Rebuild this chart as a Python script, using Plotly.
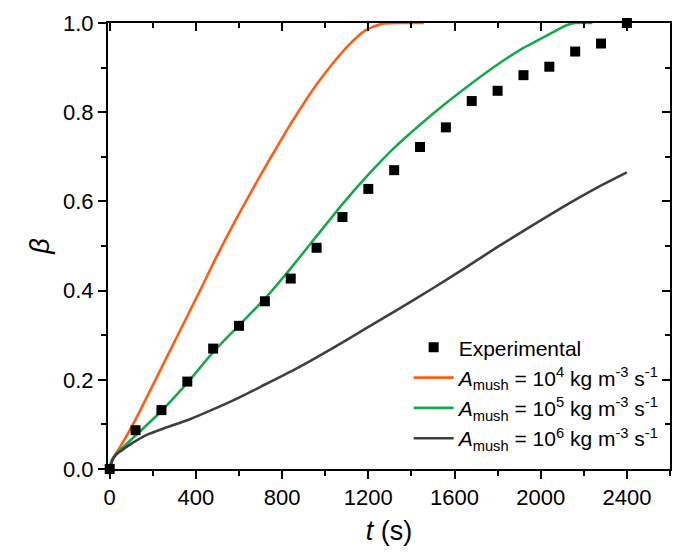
import plotly.graph_objects as go

# ---- data ----
t_exp = [0, 120, 240, 360, 480, 600, 720, 840, 960, 1080, 1200, 1320, 1440,
         1560, 1680, 1800, 1920, 2040, 2160, 2280, 2400]
beta_exp = [0.0, 0.087, 0.132, 0.196, 0.270, 0.321, 0.376, 0.427, 0.496, 0.565,
            0.628, 0.670, 0.722, 0.766, 0.825, 0.848, 0.883, 0.902, 0.936, 0.954, 1.0]

t_1e4 = [0, 10, 46, 108, 262, 415, 500, 600, 692, 800, 877, 954, 1031, 1108,
         1185, 1262, 1338, 1457]
beta_1e4 = [0.0, 0.02, 0.048, 0.100, 0.248, 0.396, 0.480, 0.572, 0.652, 0.742,
            0.802, 0.858, 0.907, 0.950, 0.983, 0.998, 1.0, 1.0]

t_1e5 = [0, 10, 46, 120, 240, 360, 480, 600, 720, 840, 960, 1080, 1200, 1320,
         1440, 1560, 1680, 1800, 1920, 2040, 2120, 2160, 2240]
beta_1e5 = [0.0, 0.02, 0.041, 0.075, 0.130, 0.193, 0.262, 0.322, 0.382, 0.450,
            0.522, 0.594, 0.660, 0.720, 0.772, 0.820, 0.865, 0.907, 0.944, 0.975,
            0.995, 1.0, 1.0]

t_1e6 = [0, 15, 31, 62, 108, 169, 262, 369, 477, 600, 723, 877, 1031, 1185,
         1338, 1492, 1646, 1800, 1954, 2108, 2262, 2400]
beta_1e6 = [0.0, 0.022, 0.033, 0.044, 0.059, 0.076, 0.093, 0.111, 0.133, 0.160,
            0.190, 0.228, 0.270, 0.314, 0.358, 0.403, 0.450, 0.498, 0.544, 0.589,
            0.631, 0.665]

names = ["Experimental",
         "<i>A</i><sub>mush</sub> = 10<sup>4</sup> kg m<sup>-3</sup> s<sup>-1</sup>",
         "<i>A</i><sub>mush</sub> = 10<sup>5</sup> kg m<sup>-3</sup> s<sup>-1</sup>",
         "<i>A</i><sub>mush</sub> = 10<sup>6</sup> kg m<sup>-3</sup> s<sup>-1</sup>"]
colors = ["#000000", "#FF5E14", "#19A84B", "#3F3F3F"]

FONT = "Liberation Sans, Arial, sans-serif"

fig = go.Figure()
fig.add_trace(go.Scatter(x=t_1e4, y=beta_1e4, mode="lines", name=names[1],
                         line=dict(color=colors[1], width=2.6, shape="spline", smoothing=0.6),
                         legendrank=2))
fig.add_trace(go.Scatter(x=t_1e5, y=beta_1e5, mode="lines", name=names[2],
                         line=dict(color=colors[2], width=2.6, shape="spline", smoothing=0.6),
                         legendrank=3))
fig.add_trace(go.Scatter(x=t_1e6, y=beta_1e6, mode="lines", name=names[3],
                         line=dict(color=colors[3], width=2.6, shape="spline", smoothing=0.6),
                         legendrank=4))
fig.add_trace(go.Scatter(x=t_exp, y=beta_exp, mode="markers", name=names[0],
                         marker=dict(symbol="square", size=10, color=colors[0]),
                         cliponaxis=False, legendrank=1))
# invisible trace for mirrored (inward-tick) axes
fig.add_trace(go.Scatter(x=[None], y=[None], xaxis="x2", yaxis="y2",
                         showlegend=False, hoverinfo="skip"))

xr = [-8, 2600]
yr = [0, 1]
axfont = dict(family=FONT, size=22, color="black")

fig.update_layout(
    width=683, height=552,
    margin=dict(l=108, r=11, t=20, b=81),
    paper_bgcolor="white", plot_bgcolor="white",
    font=dict(family=FONT, color="black"),
    xaxis=dict(range=xr, dtick=400, tick0=0, showgrid=False, zeroline=False,
               showline=True, linecolor="black", linewidth=2, mirror=True,
               ticks="outside", ticklen=8, tickwidth=2, tickcolor="black",
               tickfont=axfont,
               minor=dict(dtick=200, ticks="outside", ticklen=5, tickwidth=2,
                          tickcolor="black", showgrid=False),
               title=dict(text="<i>t</i> (s)", font=dict(family=FONT, size=27),
                          standoff=12)),
    yaxis=dict(range=yr, dtick=0.2, tick0=0, tickformat=".1f", showgrid=False,
               zeroline=False, showline=True, linecolor="black", linewidth=2,
               mirror=True, ticks="outside", ticklen=8, tickwidth=2,
               tickcolor="black", tickfont=axfont,
               minor=dict(dtick=0.1, ticks="outside", ticklen=5, tickwidth=2,
                          tickcolor="black", showgrid=False),
               title=dict(text="<i>β</i>", font=dict(family=FONT, size=27),
                          standoff=6)),
    xaxis2=dict(range=xr, overlaying="x", side="top", dtick=400, tick0=0,
                showgrid=False, zeroline=False, showline=False,
                showticklabels=False, ticks="inside", ticklen=8, tickwidth=2,
                tickcolor="black",
                minor=dict(dtick=200, ticks="inside", ticklen=5, tickwidth=2,
                           tickcolor="black", showgrid=False)),
    yaxis2=dict(range=yr, overlaying="y", side="right", dtick=0.2, tick0=0,
                showgrid=False, zeroline=False, showline=False,
                showticklabels=False, ticks="inside", ticklen=8, tickwidth=2,
                tickcolor="black",
                minor=dict(dtick=0.1, ticks="inside", ticklen=5, tickwidth=2,
                           tickcolor="black", showgrid=False)),
    legend=dict(x=0.535, y=0.318, xanchor="left", yanchor="top",
                bgcolor="rgba(0,0,0,0)", font=dict(family=FONT, size=21),
                traceorder="normal", tracegroupgap=0, itemwidth=40),
    showlegend=True,
)

fig.write_html("out.html")
